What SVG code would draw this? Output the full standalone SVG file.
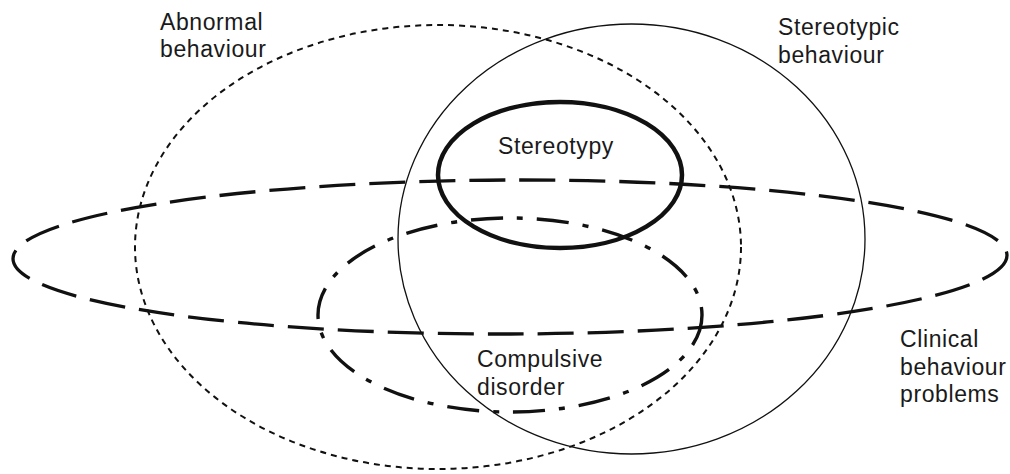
<svg xmlns="http://www.w3.org/2000/svg" width="1010" height="474" viewBox="0 0 1010 474">
<style>
  .shape { fill: none; stroke: #111; }
  .abnormal { stroke-width: 2; stroke-dasharray: 6 5; }
  .stereobeh { stroke-width: 1.3; }
  .stereotypy { stroke-width: 4.5; }
  .clinical { stroke-width: 3.3; stroke-dasharray: 36 14; }
  .compulsive { stroke-width: 3.4; stroke-dasharray: 32 14 6 14; }
  text { font-family: "Liberation Sans", Arial, sans-serif; font-size: 23px; fill: #1a1a1a; letter-spacing: 0.6px; }
</style>
<rect width="1010" height="474" fill="#ffffff"/>
<g id="abnormal-behaviour">
  <ellipse class="shape abnormal" cx="438" cy="247" rx="303" ry="222"/>
  <text x="160" y="30">Abnormal</text>
  <text x="160" y="57">behaviour</text>
</g>
<g id="stereotypic-behaviour">
  <ellipse class="shape stereobeh" cx="631.5" cy="239" rx="233.5" ry="215"/>
  <text x="778" y="35">Stereotypic</text>
  <text x="778" y="63">behaviour</text>
</g>
<g id="clinical-behaviour-problems">
  <ellipse class="shape clinical" cx="510" cy="257" rx="497" ry="77" transform="rotate(-0.2 510 257)"/>
  <text x="900" y="347">Clinical</text>
  <text x="900" y="375">behaviour</text>
  <text x="900" y="402">problems</text>
</g>
<g id="compulsive-disorder">
  <ellipse class="shape compulsive" cx="510" cy="315" rx="192" ry="97"/>
  <text x="477" y="367">Compulsive</text>
  <text x="477" y="395">disorder</text>
</g>
<g id="stereotypy">
  <ellipse class="shape stereotypy" cx="560" cy="175" rx="122" ry="73"/>
  <text x="498" y="154">Stereotypy</text>
</g>
<g id="connectors"></g>
</svg>
